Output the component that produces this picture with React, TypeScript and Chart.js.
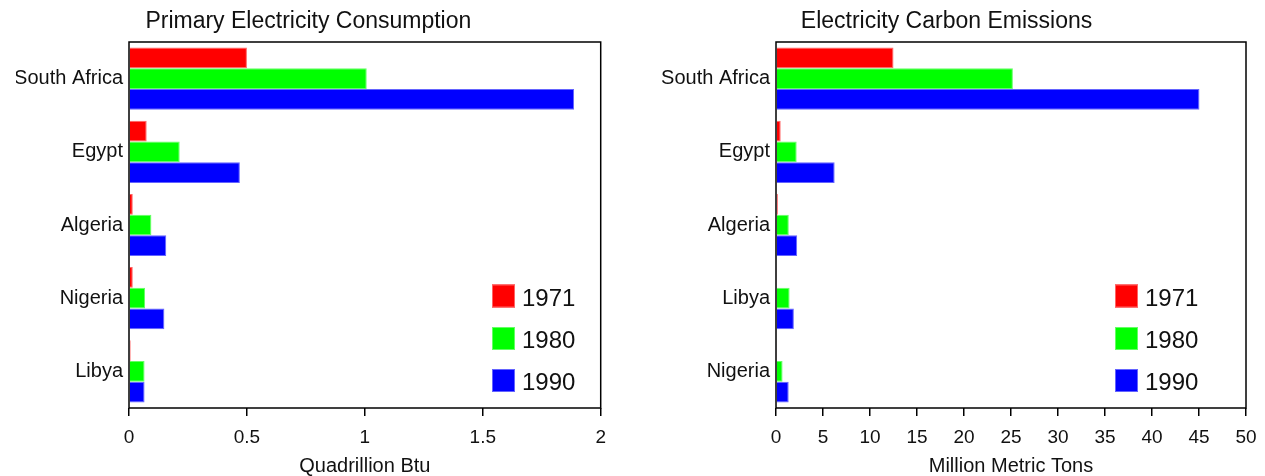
import React, { useEffect, useRef } from 'react';
import { Chart, registerables } from 'chart.js';

Chart.register(...registerables);

// ---------- Data ----------
const yearLabels = ['1971', '1980', '1990'];

const consumptionCountries = ['South Africa', 'Egypt', 'Algeria', 'Nigeria', 'Libya'];
const consumption1971 = [0.5, 0.075, 0.016, 0.016, 0.007];
const consumption1980 = [1.008, 0.215, 0.095, 0.068, 0.066];
const consumption1990 = [1.887, 0.47, 0.158, 0.15, 0.066];
const consumptionTicks = [0, 0.5, 1, 1.5, 2];

const emissionsCountries = ['South Africa', 'Egypt', 'Algeria', 'Libya', 'Nigeria'];
const emissions1971 = [12.5, 0.5, 0.2, 0.1, 0.1];
const emissions1980 = [25.2, 2.2, 1.36, 1.45, 0.7];
const emissions1990 = [45.05, 6.24, 2.25, 1.9, 1.35];
const emissionsTicks = [0, 5, 10, 15, 20, 25, 30, 35, 40, 45, 50];

// ---------- Styling ----------
const FONT = '"Liberation Sans", Arial, Helvetica, sans-serif';
const TEXT = '#111111';
const fills = ['#ff0000', '#00ff00', '#0000ff'];
const edges = ['#ff6464', '#64ff64', '#6464ff'];

const frameLegendPlugin = {
  id: 'frameLegend',
  afterDatasetsDraw(chart: any, _args: any, opts: any) {
    const { ctx, chartArea: a } = chart;
    ctx.save();
    ctx.strokeStyle = '#000';
    ctx.lineWidth = 1.5;
    ctx.strokeRect(a.left, a.top, a.right - a.left, a.bottom - a.top);
    const boxLeft = a.right - opts.rightOffset;
    const rows = [-112.5, -70, -28];
    chart.data.datasets.forEach((ds: any, i: number) => {
      const cy = a.bottom + rows[i];
      ctx.fillStyle = ds.backgroundColor;
      ctx.fillRect(boxLeft, cy - 11, 23, 23);
      ctx.strokeStyle = ds.borderColor;
      ctx.lineWidth = 1;
      ctx.strokeRect(boxLeft + 0.5, cy - 10.5, 22, 22);
      ctx.fillStyle = TEXT;
      ctx.font = `24px ${FONT}`;
      ctx.textAlign = 'left';
      ctx.textBaseline = 'middle';
      ctx.fillText(ds.label, boxLeft + 30, cy + 3.5);
    });
    ctx.restore();
  },
};

function buildConfig(p: {
  title: string;
  axisTitle: string;
  categories: string[];
  series: number[][];
  ticks: number[];
  padLeft: number;
  padRight: number;
  yWidth: number;
  legendOffset: number;
}) {
  const max = p.ticks[p.ticks.length - 1];
  const step = p.ticks[1] - p.ticks[0];
  return {
    type: 'bar' as const,
    data: {
      labels: p.categories,
      datasets: p.series.map((vals, i) => ({
        label: yearLabels[i],
        data: vals,
        backgroundColor: fills[i],
        borderColor: edges[i],
        borderWidth: 1,
        categoryPercentage: 0.85,
        barPercentage: 1,
      })),
    },
    options: {
      indexAxis: 'y' as const,
      animation: false as const,
      responsive: false,
      devicePixelRatio: 1,
      layout: { padding: { left: p.padLeft, right: p.padRight, top: 0, bottom: 0 } },
      plugins: {
        legend: { display: false },
        tooltip: { enabled: false },
        title: {
          display: true,
          text: p.title,
          color: TEXT,
          font: { family: FONT, size: 23, weight: 'normal' as const, lineHeight: 1.2 },
          padding: { top: 7.5, bottom: 6.9 },
        },
        frameLegend: { rightOffset: p.legendOffset },
      },
      scales: {
        x: {
          type: 'linear' as const,
          min: 0,
          max,
          afterBuildTicks: (scale: any) => {
            scale.ticks = p.ticks.map((v) => ({ value: v }));
          },
          ticks: {
            stepSize: step,
            color: TEXT,
            padding: 10,
            maxRotation: 0,
            font: { family: FONT, size: 19 },
            callback: (v: any) => String(v),
          },
          grid: {
            display: true,
            drawOnChartArea: false,
            drawTicks: true,
            tickLength: 8,
            color: '#000',
            lineWidth: 1.5,
          },
          border: { display: false },
          title: {
            display: true,
            text: p.axisTitle,
            color: TEXT,
            font: { family: FONT, size: 20 },
            padding: { top: 0, bottom: -2 },
          },
          afterFit: (scale: any) => {
            scale.height = 68;
            scale.paddingLeft = 0;
            scale.paddingRight = 0;
          },
        },
        y: {
          type: 'category' as const,
          grid: { display: false, drawTicks: false },
          border: { display: false },
          ticks: {
            color: TEXT,
            padding: 6,
            font: { family: FONT, size: 20 },
          },
          afterFit: (scale: any) => {
            scale.width = p.yWidth;
          },
        },
      },
    },
    plugins: [frameLegendPlugin],
  };
}

function Panel({ left, config }: { left: number; config: any }) {
  const ref = useRef<HTMLCanvasElement | null>(null);
  useEffect(() => {
    if (!ref.current) return;
    const chart = new Chart(ref.current, config);
    return () => chart.destroy();
  }, [config]);
  return (
    <div style={{ position: 'absolute', left, top: 0, width: 620, height: 476 }}>
      <canvas ref={ref} width={620} height={476} style={{ display: 'block', width: 620, height: 476 }} />
    </div>
  );
}

const leftConfig = buildConfig({
  title: 'Primary Electricity Consumption',
  axisTitle: 'Quadrillion Btu',
  categories: consumptionCountries,
  series: [consumption1971, consumption1980, consumption1990],
  ticks: consumptionTicks,
  padLeft: 16,
  padRight: 19.3,
  yWidth: 113,
  legendOffset: 108.7,
});

const rightConfig = buildConfig({
  title: 'Electricity Carbon Emissions',
  axisTitle: 'Million Metric Tons',
  categories: emissionsCountries,
  series: [emissions1971, emissions1980, emissions1990],
  ticks: emissionsTicks,
  padLeft: 7,
  padRight: 14,
  yWidth: 129,
  legendOffset: 131,
});

export default function App() {
  return (
    <div style={{ position: 'absolute', left: 0, top: 0, width: 1265, height: 476, background: '#fff', overflow: 'hidden' }}>
      <Panel left={0} config={leftConfig} />
      <Panel left={640} config={rightConfig} />
    </div>
  );
}
